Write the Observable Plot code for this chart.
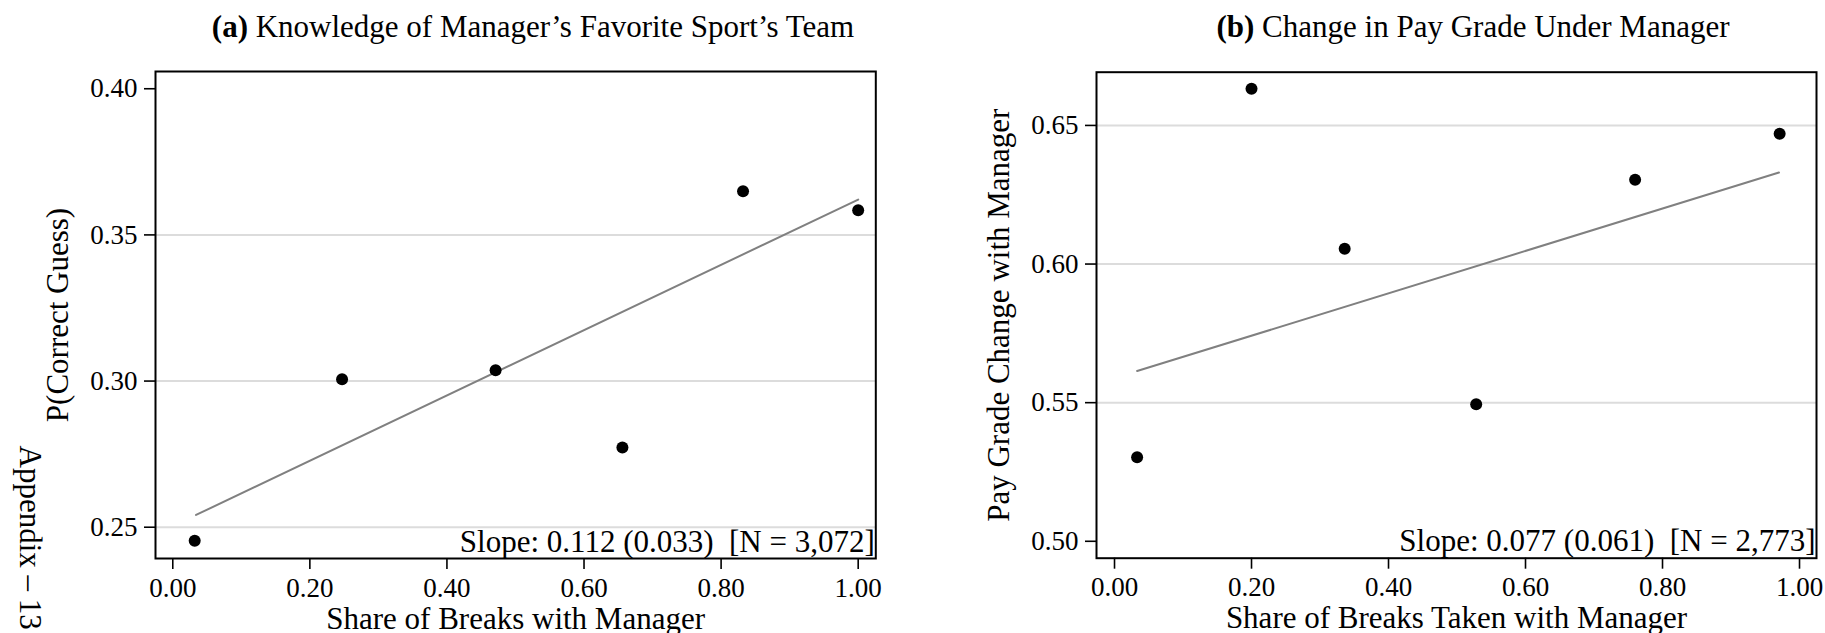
<!DOCTYPE html>
<html>
<head>
<meta charset="utf-8">
<script src="https://cdn.jsdelivr.net/npm/d3@7"></script>
<script src="https://cdn.jsdelivr.net/npm/@observablehq/plot@0.6"></script>
<style>
  body { margin: 0; background: #fff; }
  #fig { position: relative; width: 1825px; height: 633px; overflow: hidden; font-family: "Liberation Serif", "Times New Roman", serif; }
  #fig svg { position: absolute; top: 0; }
  #fig svg text { white-space: pre; }
  .title { position: absolute; top: 11px; font-size: 31px; line-height: 31px; white-space: nowrap; transform: translateX(-50%); color: #000; }
</style>
</head>
<body>
<div id="fig">
  <div class="title" style="left:533px"><b>(a)</b> Knowledge of Manager’s Favorite Sport’s Team</div>
  <div class="title" style="left:1473px"><b>(b)</b> Change in Pay Grade Under Manager</div>
</div>
<script>
// panel (a): binned share of breaks vs P(correct guess)
const shareA = [0.032, 0.247, 0.471, 0.656, 0.832, 1.000];
const correctA = [0.2454, 0.3006, 0.3037, 0.2773, 0.3649, 0.3584];
const fitShareA = [0.034, 1.000];
const fitCorrectA = [0.2542, 0.3621];
const noteA = "Slope: 0.112 (0.033)  [N = 3,072]";

// panel (b): binned share of breaks vs pay grade change
const shareB = [0.033, 0.200, 0.336, 0.528, 0.760, 0.971];
const payB = [0.5303, 0.6632, 0.6055, 0.5494, 0.6304, 0.6470];
const fitShareB = [0.033, 0.970];
const fitPayB = [0.5614, 0.6330];
const noteB = "Slope: 0.077 (0.061)  [N = 2,773]";

const xTicks = [0, 0.2, 0.4, 0.6, 0.8, 1.0];
const yTicksA = [0.25, 0.30, 0.35, 0.40];
const yTicksB = [0.50, 0.55, 0.60, 0.65];
const gridA = [0.25, 0.30, 0.35];
const gridB = [0.55, 0.60, 0.65];

function panel(o) {
  return Plot.plot({
    width: o.width,
    height: 633,
    marginLeft: o.marginLeft,
    marginRight: o.marginRight,
    marginTop: o.marginTop,
    marginBottom: o.marginBottom,
    x: {domain: o.xDomain},
    y: {domain: o.yDomain},
    style: {fontFamily: "Liberation Serif", fontSize: "27px", color: "black", background: "transparent", overflow: "visible"},
    marks: [
      Plot.ruleY(o.grid, {stroke: "#dcdcdc", strokeWidth: 2}),
      Plot.line(o.fitX, {x: o.fitX, y: o.fitY, stroke: "#808080", strokeWidth: 2}),
      Plot.dot(o.xs, {x: o.xs, y: o.ys, r: 6, fill: "black", stroke: null}),
      Plot.frame({stroke: "black", strokeWidth: 2}),
      Plot.axisX(xTicks, {tickSize: 11, tickPadding: 8, tickFormat: ".2f", label: null, fontSize: 27, strokeWidth: 1.6}),
      Plot.axisY(o.yTicks, {tickSize: 11, tickPadding: 7, tickFormat: ".2f", label: null, fontSize: 27, strokeWidth: 1.6}),
      Plot.text([o.note], {text: d => d, frameAnchor: "bottom-right", textAnchor: "end", lineAnchor: "bottom", dx: -1, dy: -7, fontSize: 31}),
      Plot.text([o.xLabel], {text: d => d, frameAnchor: "bottom", lineAnchor: "bottom", dy: 70, fontSize: 31}),
      Plot.text([o.yLabel], {text: d => d, frameAnchor: "left", rotate: -90, textAnchor: "middle", lineAnchor: "bottom", dx: -88, fontSize: 31}),
      ...(o.extra || [])
    ]
  });
}

const left = panel({
  width: 912, marginLeft: 155, marginRight: 36.7, marginTop: 71, marginBottom: 75,
  xDomain: [-0.0252, 1.0257], yDomain: [0.2393, 0.4059],
  grid: gridA, yTicks: yTicksA, xs: shareA, ys: correctA, fitX: fitShareA, fitY: fitCorrectA,
  note: noteA, xLabel: "Share of Breaks with Manager", yLabel: "P(Correct Guess)",
  extra: [
    Plot.text(["Appendix – 13"], {text: d => d, frameAnchor: "bottom-left", rotate: 90, textAnchor: "start", lineAnchor: "bottom", dx: -136, dy: -113, fontSize: 31})
  ]
});
left.style.left = "0px";

const right = panel({
  width: 913, marginLeft: 184, marginRight: 9, marginTop: 71.7, marginBottom: 75.3,
  xDomain: [-0.0263, 1.0248], yDomain: [0.4939, 0.6692],
  grid: gridB, yTicks: yTicksB, xs: shareB, ys: payB, fitX: fitShareB, fitY: fitPayB,
  note: noteB, xLabel: "Share of Breaks Taken with Manager", yLabel: "Pay Grade Change with Manager"
});
right.style.left = "912px";

document.getElementById("fig").append(left, right);
</script>
</body>
</html>
